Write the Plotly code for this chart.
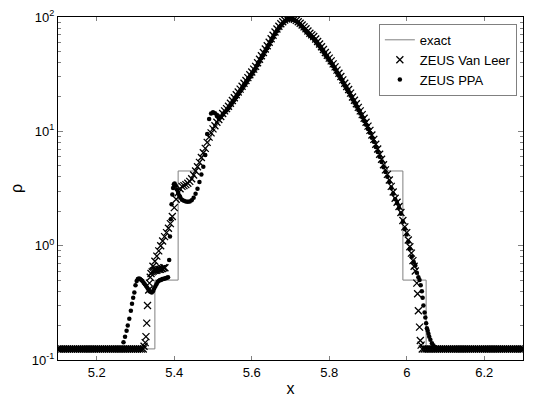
import plotly.graph_objects as go

FLOOR = 0.125

# exact solution (step profile + central peak)
exact_x = [5.10, 5.35, 5.35, 5.41, 5.41, 5.455, 5.47, 5.50, 5.55, 5.60, 5.65, 5.68,
           5.695, 5.71, 5.74, 5.80, 5.85, 5.90, 5.952, 5.99, 5.99, 6.05, 6.05, 6.30]
exact_rho = [0.125, 0.125, 0.5, 0.5, 4.5, 4.5, 5.6, 9.8, 18.5, 33.5, 64.0, 89.0,
             97.0, 95.5, 79.5, 44.0, 23.5, 11.3, 4.5, 4.5, 0.5, 0.5, 0.125, 0.125]

# cell positions of the flat background
floor_left_x = [5.100, 5.105, 5.110, 5.115, 5.120, 5.125, 5.130, 5.135, 5.140, 5.145,
                5.150, 5.155, 5.160, 5.165, 5.170, 5.175, 5.180, 5.185, 5.190, 5.195,
                5.200, 5.205, 5.210, 5.215, 5.220, 5.225, 5.230, 5.235, 5.240, 5.245,
                5.250, 5.255, 5.260, 5.265, 5.270, 5.275, 5.280, 5.285, 5.290, 5.295,
                5.300, 5.305, 5.310, 5.315, 5.320]
floor_right_x = [6.040, 6.045, 6.050, 6.055, 6.060, 6.065, 6.070, 6.075, 6.080, 6.085,
                 6.090, 6.095, 6.100, 6.105, 6.110, 6.115, 6.120, 6.125, 6.130, 6.135,
                 6.140, 6.145, 6.150, 6.155, 6.160, 6.165, 6.170, 6.175, 6.180, 6.185,
                 6.190, 6.195, 6.200, 6.205, 6.210, 6.215, 6.220, 6.225, 6.230, 6.235,
                 6.240, 6.245, 6.250, 6.255, 6.260, 6.265, 6.270, 6.275, 6.280, 6.285,
                 6.290, 6.295, 6.300]

# cell positions across the central peak
band_x = [5.420, 5.425, 5.430, 5.435, 5.440, 5.445, 5.450, 5.455, 5.460, 5.465,
          5.470, 5.475, 5.480, 5.485, 5.490, 5.495, 5.500, 5.505, 5.510, 5.515,
          5.520, 5.525, 5.530, 5.535, 5.540, 5.545, 5.550, 5.555, 5.560, 5.565,
          5.570, 5.575, 5.580, 5.585, 5.590, 5.595, 5.600, 5.605, 5.610, 5.615,
          5.620, 5.625, 5.630, 5.635, 5.640, 5.645, 5.650, 5.655, 5.660, 5.665,
          5.670, 5.675, 5.680, 5.685, 5.690, 5.695, 5.700, 5.705, 5.710, 5.715,
          5.720, 5.725, 5.730, 5.735, 5.740, 5.745, 5.750, 5.755, 5.760, 5.765,
          5.770, 5.775, 5.780, 5.785, 5.790, 5.795, 5.800, 5.805, 5.810, 5.815,
          5.820, 5.825, 5.830, 5.835, 5.840, 5.845, 5.850, 5.855, 5.860, 5.865,
          5.870, 5.875, 5.880, 5.885, 5.890, 5.895, 5.900, 5.905, 5.910, 5.915,
          5.920, 5.925, 5.930, 5.935, 5.940, 5.945, 5.950, 5.955, 5.960, 5.965,
          5.970, 5.975, 5.980, 5.985, 5.990, 5.995]

# ZEUS Van Leer
vl_band_rho = [3.30, 3.35, 3.42, 3.52, 3.65, 3.85, 4.15, 4.5, 4.9, 5.35,
               5.9, 6.5, 7.1, 8.0, 8.9, 9.7, 10.5, 11.2, 12.0, 12.7,
               13.5, 14.3, 15.1, 15.8, 16.6, 17.6, 18.6, 19.7, 20.9, 22.1,
               23.4, 24.8, 26.3, 27.8, 29.5, 31.2, 33.0, 35.0, 37.0, 39.8,
               42.7, 45.8, 49.0, 52.5, 56.0, 60.2, 64.6, 69.2, 74.0, 78.5,
               83.0, 87.2, 91.0, 94.0, 96.5, 97.5, 97.7, 97.0, 95.5, 93.5,
               91.0, 88.2, 85.0, 82.0, 79.0, 75.5, 72.0, 69.8, 67.6, 64.3,
               61.0, 58.0, 55.0, 52.0, 49.0, 46.3, 43.7, 41.3, 38.9, 36.6,
               34.3, 32.2, 30.2, 28.2, 26.3, 24.7, 23.2, 21.6, 20.0, 18.7,
               17.4, 16.2, 15.1, 14.0, 13.0, 12.0, 11.1, 10.2, 9.3, 8.5,
               7.7, 7.0, 6.3, 5.7, 5.1, 4.6, 4.2, 3.75, 3.3, 2.95,
               2.6, 2.4, 2.2, 1.95, 1.66, 1.46]
vl_left_x = [5.322, 5.325, 5.327, 5.329, 5.331, 5.334, 5.336, 5.338, 5.340,
             5.343, 5.346, 5.349, 5.352, 5.355, 5.358, 5.361, 5.364, 5.367, 5.370, 5.373, 5.376,
             5.345, 5.350, 5.355, 5.360, 5.365, 5.370, 5.375, 5.380, 5.385, 5.390,
             5.395, 5.400, 5.405, 5.410, 5.415]
vl_left_rho = [0.132, 0.142, 0.16, 0.21, 0.30, 0.41, 0.47, 0.53, 0.57,
               0.59, 0.60, 0.61, 0.61, 0.61, 0.62, 0.62, 0.62, 0.63, 0.63, 0.64, 0.64,
               0.66, 0.73, 0.81, 0.90, 1.0, 1.1, 1.2, 1.3, 1.42, 1.56,
               1.8, 2.15, 2.55, 2.9, 3.15]
vl_right_x = [6.000, 6.004, 6.008, 6.012, 6.016, 6.019, 6.022, 6.026, 6.028, 6.030,
              6.033, 6.035, 6.037]
vl_right_rho = [1.30, 1.12, 0.98, 0.86, 0.74, 0.66, 0.60, 0.47, 0.38, 0.27,
                0.194, 0.148, 0.135]

# ZEUS PPA
ppa_band_rho = [2.52, 2.47, 2.43, 2.42, 2.44, 2.50, 2.62, 2.85, 3.15, 3.6,
                4.2, 4.9, 6.2, 9.5, 12.8, 14.3, 14.7, 14.4, 13.6, 13.0,
                13.3, 14.0, 14.7, 15.2, 15.9, 16.8, 17.8, 18.8, 19.9, 21.1,
                22.3, 23.6, 25.0, 26.5, 28.1, 29.7, 31.4, 33.3, 35.2, 37.9,
                40.6, 43.6, 46.6, 50.0, 53.3, 57.3, 61.5, 66.0, 70.5, 75.0,
                79.5, 84.0, 88.0, 91.5, 94.5, 96.0, 96.5, 96.0, 94.2, 92.0,
                89.0, 85.5, 82.0, 78.5, 75.2, 72.0, 68.6, 66.4, 64.3, 61.2,
                58.0, 55.2, 52.3, 49.5, 46.6, 44.0, 41.6, 39.3, 37.0, 34.8,
                32.6, 30.6, 28.7, 26.8, 25.0, 23.5, 22.0, 20.5, 19.0, 17.8,
                16.5, 15.4, 14.3, 13.3, 12.3, 11.4, 10.5, 9.7, 8.8, 8.1,
                7.3, 6.6, 6.0, 5.4, 4.85, 4.4, 4.0, 3.6, 3.2, 2.85,
                2.55, 2.35, 2.15, 1.9, 1.62, 1.40]
ppa_left_x = [5.269, 5.273, 5.277, 5.280, 5.284, 5.288, 5.291, 5.294, 5.297, 5.300, 5.303,
              5.306, 5.309, 5.312, 5.315, 5.318, 5.321, 5.324, 5.327, 5.330, 5.333,
              5.336, 5.339, 5.342, 5.345, 5.348, 5.351, 5.354, 5.357, 5.360, 5.363,
              5.366, 5.369, 5.372, 5.375, 5.378, 5.381, 5.384,
              5.387, 5.389, 5.391, 5.393, 5.395, 5.397, 5.399, 5.401, 5.404, 5.407,
              5.410, 5.413, 5.416]
ppa_left_rho = [0.143, 0.16, 0.18, 0.20, 0.23, 0.27, 0.31, 0.35, 0.39, 0.45, 0.49,
                0.51, 0.515, 0.51, 0.50, 0.49, 0.475, 0.46, 0.445, 0.43, 0.415,
                0.40, 0.395, 0.39, 0.40, 0.42, 0.44, 0.46, 0.48, 0.49, 0.50,
                0.50, 0.51, 0.51, 0.515, 0.52, 0.525, 0.53,
                0.75, 1.2, 1.7, 2.3, 2.8, 3.2, 3.45, 3.5, 3.35, 3.1,
                2.9, 2.75, 2.62]
ppa_right_x = [6.000, 6.004, 6.008, 6.013, 6.018, 6.022, 6.026, 6.030, 6.033, 6.036,
               6.039, 6.041, 6.043, 6.046, 6.048, 6.050, 6.052, 6.054, 6.056, 6.058,
               6.061, 6.065, 6.069, 6.073]
ppa_right_rho = [1.25, 1.08, 0.94, 0.80, 0.72, 0.67, 0.58, 0.53, 0.50, 0.45,
                 0.40, 0.35, 0.30, 0.26, 0.235, 0.21, 0.19, 0.18, 0.17, 0.16,
                 0.15, 0.14, 0.134, 0.129]

vl_x = floor_left_x + vl_left_x + band_x + vl_right_x + floor_right_x
vl_rho = [FLOOR] * len(floor_left_x) + vl_left_rho + vl_band_rho + vl_right_rho + [FLOOR] * len(floor_right_x)

ppa_floor_left = [x for x in floor_left_x if x <= 5.265]
ppa_floor_right = [x for x in floor_right_x if x >= 6.075]
ppa_x = ppa_floor_left + ppa_left_x + band_x + ppa_right_x + ppa_floor_right
ppa_rho = [FLOOR] * len(ppa_floor_left) + ppa_left_rho + ppa_band_rho + ppa_right_rho + [FLOOR] * len(ppa_floor_right)

x_ticks = [5.2, 5.4, 5.6, 5.8, 6.0, 6.2]
x_labels = ["5.2", "5.4", "5.6", "5.8", "6", "6.2"]
y_ticks = [0.1, 1, 10, 100]
y_labels = ["10<sup>-1</sup>", "10<sup>0</sup>", "10<sup>1</sup>", "10<sup>2</sup>"]
y_minor = [0.2, 0.3, 0.4, 0.5, 0.6, 0.7, 0.8, 0.9, 2, 3, 4, 5, 6, 7, 8, 9,
           20, 30, 40, 50, 60, 70, 80, 90]

fig = go.Figure()
fig.add_trace(go.Scatter(x=exact_x, y=exact_rho, mode='lines', name='exact',
                         line=dict(color='#808080', width=1)))
fig.add_trace(go.Scatter(x=vl_x, y=vl_rho, mode='markers', name='ZEUS Van Leer',
                         marker=dict(symbol='x-thin', size=7, color='black',
                                     line=dict(width=1.3, color='black'))))
fig.add_trace(go.Scatter(x=ppa_x, y=ppa_rho, mode='markers', name='ZEUS PPA',
                         marker=dict(symbol='circle', size=4.5, color='black')))

# the page body adds an 8px offset, so the figure is sized to fit inside it
fig.update_layout(
    width=526, height=392,
    margin=dict(l=50, r=11, t=9, b=40),
    paper_bgcolor='white', plot_bgcolor='white',
    font=dict(family='Liberation Sans, Arial, sans-serif', size=13, color='black'),
    showlegend=True,
    legend=dict(x=0.69, y=0.98, xanchor='left', yanchor='top',
                bordercolor='#808080', borderwidth=1, bgcolor='white',
                font=dict(size=13), itemwidth=30, tracegroupgap=0),
)
fig.update_xaxes(range=[5.1, 6.3], tickvals=x_ticks, ticktext=x_labels,
                 ticks='inside', ticklen=4, tickcolor='#808080',
                 showline=True, linecolor='black', linewidth=1, mirror='ticks',
                 showgrid=False, zeroline=False, automargin=False,
                 title=dict(text='x', standoff=4))
fig.update_yaxes(type='log', range=[-1, 2], tickvals=y_ticks, ticktext=y_labels,
                 ticks='inside', ticklen=5, tickcolor='#808080',
                 minor=dict(tickvals=y_minor, ticks='inside', ticklen=3, tickcolor='#808080'),
                 showline=True, linecolor='black', linewidth=1, mirror='allticks',
                 showgrid=False, zeroline=False, automargin=False,
                 title=dict(text='ρ', standoff=10))

fig.write_html("out.html")
